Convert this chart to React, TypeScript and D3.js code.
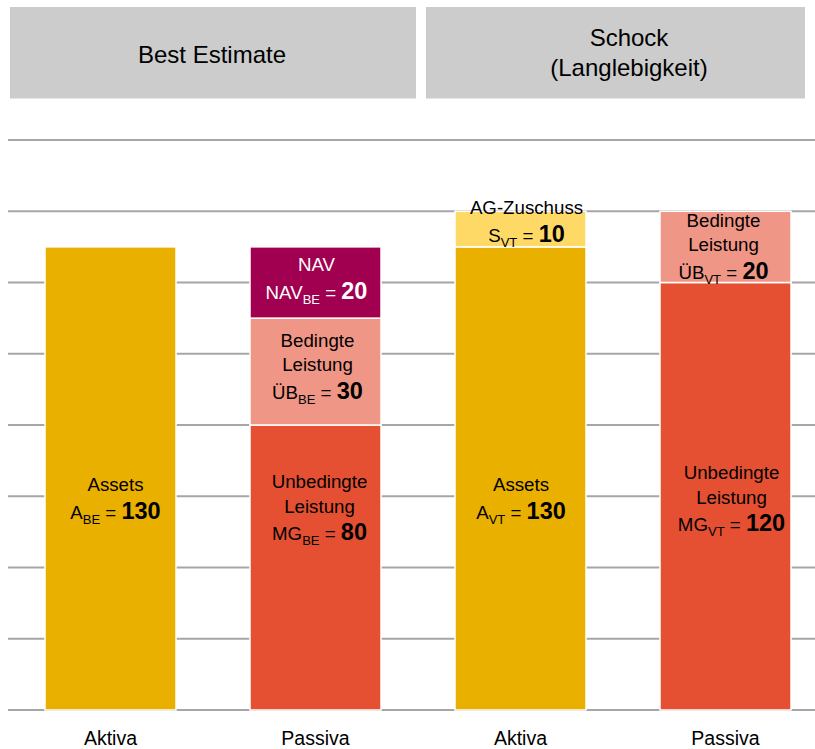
import React from "react";
import * as d3 from "d3";

const WIDTH = 815;
const HEIGHT = 749;

// Columns along the x axis
const columns = ["Aktiva", "Passiva", "Aktiva", "Passiva"];

// Scenario headers (each spans two columns)
const scenarioTitles = [["Best Estimate"], ["Schock", "(Langlebigkeit)"]];

// Stacked segments, listed bottom to top within each column
const segColumn = [0, 1, 1, 1, 2, 2, 3, 3];
const segKind = ["assets", "mg", "ub", "nav", "assets", "zuschuss", "mg", "ub"];
const segValue = [130, 80, 30, 20, 130, 10, 120, 20];
const segSymbol = ["A", "MG", "ÜB", "NAV", "A", "S", "MG", "ÜB"];
const segIndex = ["BE", "BE", "BE", "BE", "VT", "VT", "VT", "VT"];

// Horizontal reference lines
const gridTicks = [0, 20, 40, 60, 80, 100, 120, 140, 160];

const kindTitle: Record<string, string[]> = {
  assets: ["Assets"],
  mg: ["Unbedingte", "Leistung"],
  ub: ["Bedingte", "Leistung"],
  nav: ["NAV"],
  zuschuss: ["AG-Zuschuss"],
};

const kindColor: Record<string, string> = {
  assets: "#eab000",
  mg: "#e55033",
  ub: "#f09686",
  nav: "#a0004f",
  zuschuss: "#ffd966",
};

const kindTextColor: Record<string, string> = {
  assets: "#000",
  mg: "#000",
  ub: "#000",
  nav: "#fff",
  zuschuss: "#000",
};

// Label placement: first baseline relative to the segment's middle, plus a small horizontal nudge
const labelShift = [12.6, -79.5, -24.6, -11.5, 12.6, -15, -17, -20];
const labelNudge = [5, 4, 2, 1, 0.5, 6, 6, -2];

const FONT = "'Liberation Sans', Arial, sans-serif";

export default function App() {
  const x = d3
    .scaleBand<number>()
    .domain(d3.range(columns.length))
    .range([45, 791])
    .paddingInner(74 / 205)
    .paddingOuter(0);

  const y = d3.scaleLinear().domain([0, 160]).range([710, 140]);

  // cumulative stacking per column
  const base: number[] = columns.map(() => 0);
  const segments = segValue.map((v, i) => {
    const c = segColumn[i];
    const y0 = base[c];
    const y1 = y0 + v;
    base[c] = y1;
    return { i, c, y0, y1, v };
  });

  const headerBoxes = [
    { x0: 10, x1: 416, tx: 212 },
    { x0: 426, x1: 805, tx: 629 },
  ];

  const titleGap = 24.5;
  const valueGap = 27.5;

  return (
    <svg
      width={WIDTH}
      height={HEIGHT}
      style={{ position: "absolute", left: 0, top: 0, background: "#fff" }}
      fontFamily={FONT}
    >
      {/* scenario headers */}
      {headerBoxes.map((b, k) => {
        const lines = scenarioTitles[k];
        const baselines = lines.length === 1 ? [62.5] : [46, 75.5];
        return (
          <g key={"h" + k}>
            <rect x={b.x0} y={7} width={b.x1 - b.x0} height={91.5} fill="#cccccc" />
            {lines.map((t, j) => (
              <text key={j} x={b.tx} y={baselines[j]} textAnchor="middle" fontSize={24} fill="#000">
                {t}
              </text>
            ))}
          </g>
        );
      })}

      {/* grid lines */}
      {gridTicks.map((t) => (
        <line key={"g" + t} x1={8} x2={815} y1={y(t)} y2={y(t)} stroke="#a6a6a6" strokeWidth={2} />
      ))}

      {/* stacked bars */}
      {segments.map((s) => (
        <rect
          key={"s" + s.i}
          x={x(s.c)!}
          width={x.bandwidth()}
          y={y(s.y1)}
          height={y(s.y0) - y(s.y1)}
          fill={kindColor[segKind[s.i]]}
          stroke="#fff"
          strokeWidth={1.5}
        />
      ))}

      {/* segment labels */}
      {segments.map((s) => {
        const kind = segKind[s.i];
        const titles = kindTitle[kind];
        const cx = x(s.c)! + x.bandwidth() / 2 + labelNudge[s.i];
        const mid = (y(s.y0) + y(s.y1)) / 2;
        const first = mid + labelShift[s.i];
        const valueY = first + (titles.length - 1) * titleGap + valueGap;
        const fill = kindTextColor[kind];
        return (
          <g key={"l" + s.i} fill={fill}>
            {titles.map((t, j) => (
              <text key={j} x={cx} y={first + j * titleGap} textAnchor="middle" fontSize={18.7}>
                {t}
              </text>
            ))}
            <text x={cx} y={valueY} textAnchor="middle" fontSize={18.7} style={{ whiteSpace: "pre" }}>
              <tspan>{segSymbol[s.i]}</tspan>
              <tspan fontSize={13} dy={5}>
                {segIndex[s.i]}
              </tspan>
              <tspan dy={-5}>{" = "}</tspan>
              <tspan fontSize={23.5} fontWeight="bold">
                {String(s.v)}
              </tspan>
            </text>
          </g>
        );
      })}

      {/* column labels */}
      {columns.map((c, k) => (
        <text
          key={"c" + k}
          x={x(k)! + x.bandwidth() / 2}
          y={745}
          textAnchor="middle"
          fontSize={19.5}
          fill="#000"
        >
          {c}
        </text>
      ))}
    </svg>
  );
}
